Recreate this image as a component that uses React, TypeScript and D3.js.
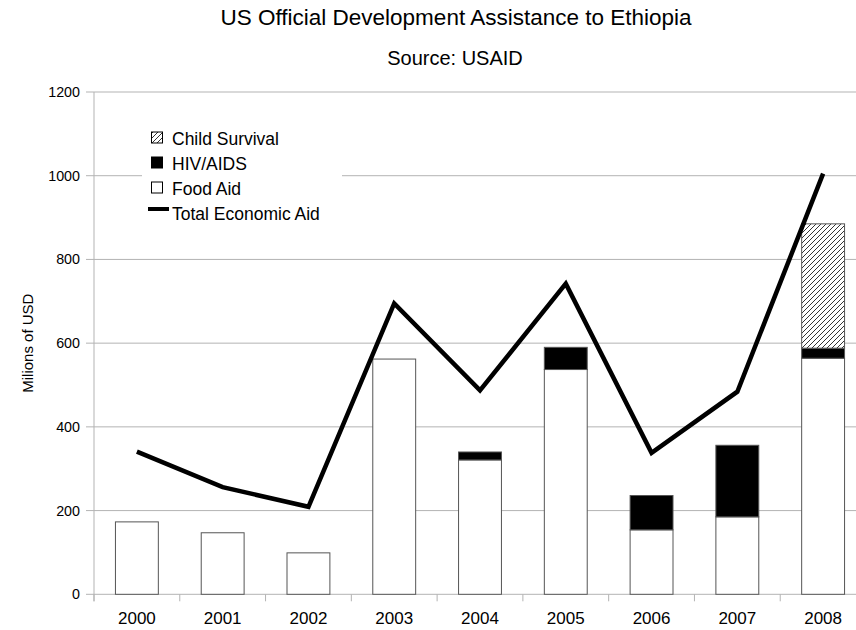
import React from "react";
import * as d3 from "d3";

const years = ["2000", "2001", "2002", "2003", "2004", "2005", "2006", "2007", "2008"];
const foodAid = [173, 147, 99, 562, 321, 537, 154, 185, 564];
const hivAids = [0, 0, 0, 0, 19, 53, 82, 171, 24];
const childSurvival = [0, 0, 0, 0, 0, 0, 0, 0, 297];
const totalEconomicAid = [341, 256, 209, 695, 487, 742, 338, 484, 1005];
const yTicks = [0, 200, 400, 600, 800, 1000, 1200];

const W = 856;
const H = 630;
const FONT = "'Liberation Sans', Arial, sans-serif";

export default function App() {
  const x = d3.scaleBand<string>().domain(years).range([94, 866]).paddingInner(0.5).paddingOuter(0.25);
  const y = d3.scaleLinear().domain([0, 1200]).range([594.3, 92]);
  const step = x.step();
  const bw = x.bandwidth();

  const stacks = years.map((yr, i) => {
    const f0 = 0, f1 = foodAid[i];
    const h1 = f1 + hivAids[i];
    const c1 = h1 + childSurvival[i];
    return { yr, f0, f1, h1, c1 };
  });

  const line = d3
    .line<number>()
    .x((_, i) => (x(years[i]) as number) + bw / 2)
    .y((d) => y(d));

  const grid = "#b3b3b3";
  const barStroke = "#555";

  return (
    <svg width={W} height={H} style={{ position: "absolute", left: 0, top: 0, background: "#fff" }} fontFamily={FONT}>
      <defs>
        <pattern id="hatch" patternUnits="userSpaceOnUse" width="5" height="5">
          <rect width="5" height="5" fill="#fff" />
          <path d="M-1,1 l2,-2 M0,5 l5,-5 M4,6 l2,-2" stroke="#000" strokeWidth="0.8" />
        </pattern>
      </defs>
      <rect width={W} height={H} fill="#fff" />
      {/* titles */}
      <text x={456} y={25} textAnchor="middle" fontSize={22.5} fill="#000">
        US Official Development Assistance to Ethiopia
      </text>
      <text x={455} y={65} textAnchor="middle" fontSize={20} fill="#000">
        Source: USAID
      </text>
      {/* gridlines and y ticks */}
      {yTicks.map((t) => (
        <g key={t}>
          <line x1={86} x2={W} y1={y(t)} y2={y(t)} stroke={grid} strokeWidth={1} />
          <text x={80} y={y(t)} dy="0.35em" textAnchor="end" fontSize={14.3} fill="#000">
            {t}
          </text>
        </g>
      ))}
      {/* y axis line */}
      <line x1={94} x2={94} y1={y(1200)} y2={y(0) + 7} stroke={grid} strokeWidth={1} />
      {/* x ticks */}
      {d3.range(years.length + 1).map((i) => (
        <line key={i} x1={94 + i * step} x2={94 + i * step} y1={y(0)} y2={y(0) + 7} stroke={grid} strokeWidth={1} />
      ))}
      {years.map((yr) => (
        <text key={yr} x={(x(yr) as number) + bw / 2} y={624} textAnchor="middle" fontSize={17} fill="#000">
          {yr}
        </text>
      ))}
      {/* y axis title */}
      <text
        transform={`translate(33,${y(600)}) rotate(-90)`}
        textAnchor="middle"
        fontSize={15}
        fill="#000"
      >
        Milions of USD
      </text>
      {/* bars */}
      {stacks.map((s) => {
        const bx = x(s.yr) as number;
        return (
          <g key={s.yr}>
            <rect x={bx} y={y(s.f1)} width={bw} height={y(s.f0) - y(s.f1)} fill="#fff" stroke={barStroke} strokeWidth={1} />
            {s.h1 > s.f1 && (
              <rect x={bx} y={y(s.h1)} width={bw} height={y(s.f1) - y(s.h1)} fill="#000" stroke={barStroke} strokeWidth={1} />
            )}
            {s.c1 > s.h1 && (
              <rect x={bx} y={y(s.c1)} width={bw} height={y(s.h1) - y(s.c1)} fill="url(#hatch)" stroke={barStroke} strokeWidth={1} />
            )}
          </g>
        );
      })}
      {/* total line */}
      <path d={line(totalEconomicAid) || ""} fill="none" stroke="#000" strokeWidth={4.5} strokeLinejoin="miter" />
      {/* legend */}
      <rect x={142} y={124} width={200} height={104} fill="#fff" />
      <g fontSize={17.5} fill="#000">
        <rect x={151.5} y={132} width={11} height={11} fill="url(#hatch)" stroke="#000" strokeWidth={1} />
        <text x={172} y={145}>Child Survival</text>
        <rect x={151.5} y={157} width={11} height={11} fill="#000" stroke="#000" strokeWidth={1} />
        <text x={172} y={170}>HIV/AIDS</text>
        <rect x={151.5} y={182} width={11} height={11} fill="#fff" stroke="#000" strokeWidth={1} />
        <text x={172} y={195}>Food Aid</text>
        <line x1={148} x2={169} y1={209} y2={209} stroke="#000" strokeWidth={4} />
        <text x={172} y={220}>Total Economic Aid</text>
      </g>
    </svg>
  );
}
